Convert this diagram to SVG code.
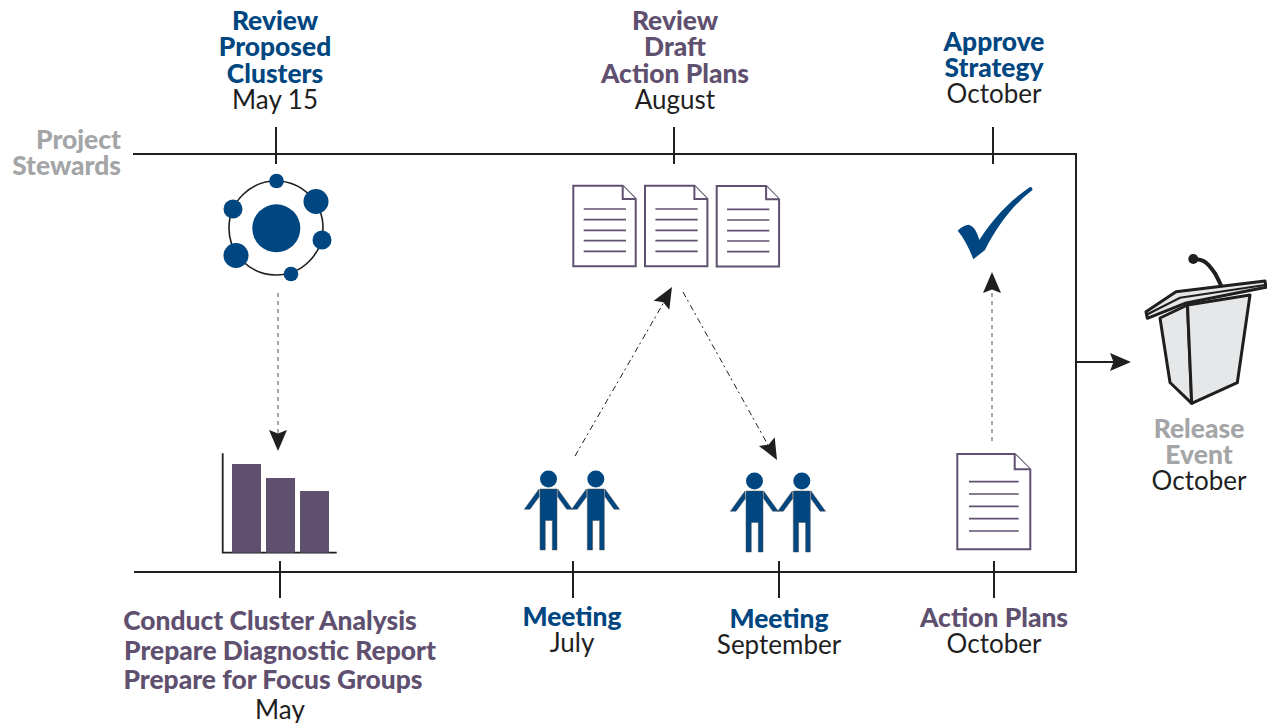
<svg xmlns="http://www.w3.org/2000/svg" width="1267" height="723" viewBox="0 0 1267 723">
<style>
text{font-family:"Lato","Open Sans",sans-serif;font-size:26px;text-anchor:middle;fill:#1f1f1f}
.h{font-weight:900;font-size:26.4px}
.b{fill:#004680}.p{fill:#5f5070}.g{fill:#a3a5a7}
.ln{stroke:#1f1f1f;stroke-width:2;fill:none}
.d1{stroke:#1f1f1f;stroke-width:1;stroke-dasharray:6 3 2 4;fill:none}
.d2{stroke:#8a8a8a;stroke-width:1.5;stroke-dasharray:4 4;fill:none}
.doc{fill:#fff;stroke:#5f5070;stroke-width:2}
.dl{stroke:#5f5070;stroke-width:1.7}
.blue{fill:#004680}
.pod{fill:#e6e7e8;stroke:#1f1f1f;stroke-width:3;stroke-linejoin:round}
</style>
<defs>
<path id="ah" d="M0 0L-9 -21L0 -17.5L9 -21Z" fill="#1f1f1f"/>
<g id="doc3">
<path class="doc" d="M0 0H49.4L62.4 13.3V80.6H0Z"/>
<path class="doc" d="M49.4 0V13.3H62.4" fill="none"/>
<path class="dl" d="M10.4 23.3H52.7M10.4 34H52.7M10.4 44.6H52.7M10.4 55H52.7M10.4 65.6H52.7"/>
</g>
<g id="pair">
<g id="person">
<circle cx="8.5" cy="-10" r="8.5" class="blue"/>
<path class="blue" stroke="#555" stroke-width=".5" d="M0 0H17V61H12.3V31.5H5.3V61H0Z"/>
<path class="blue" stroke="#555" stroke-width=".5" d="M-1 0L-15.7 20.3H-10L-.7 7.7Z"/>
<path class="blue" stroke="#555" stroke-width=".5" d="M17.7 0L32.3 20.3H26.7L17.7 7.7Z"/>
</g>
<use href="#person" x="47.3"/>
</g>
</defs>

<g id="connectors">
<path class="ln" d="M133 154H1076V572H134"/>
<path class="ln" d="M276 127V164M674 127V164M993 127V164M280 561V598M573 561V598M779 561V598M994 561V598"/>
<path class="ln" d="M1076 362H1118"/>
<use href="#ah" transform="translate(1131 362) rotate(-90)"/>
<path class="d2" d="M278 293V434"/>
<use href="#ah" transform="translate(278 451)"/>
<path class="d1" d="M575 456L664 302"/>
<use href="#ah" transform="translate(672 287) rotate(-150)"/>
<path class="d1" d="M683 292L768 445"/>
<use href="#ah" transform="translate(777 460) rotate(-29)"/>
<path class="d2" d="M992 441V290"/>
<use href="#ah" transform="translate(992 272) rotate(180)"/>
</g>

<g id="n-stewards"><text class="h g" x="121" y="149" style="text-anchor:end">Project</text><text class="h g" x="121" y="175" style="text-anchor:end">Stewards</text></g>

<g id="n-review-clusters">
<text class="h b" x="275" y="30">Review</text><text class="h b" x="275" y="56">Proposed</text><text class="h b" x="275" y="83">Clusters</text><text x="275" y="109">May 15</text>
<circle cx="276" cy="228" r="47" fill="none" stroke="#1f1f1f" stroke-width="1.6"/>
<g class="blue"><circle cx="276.3" cy="228.3" r="24"/><circle cx="276.5" cy="181" r="7.3"/><circle cx="316" cy="201.5" r="12.5"/><circle cx="233" cy="209" r="9.5"/><circle cx="322" cy="240" r="9.5"/><circle cx="236" cy="255.5" r="12.5"/><circle cx="291" cy="274" r="7.3"/></g>
</g>

<g id="n-review-draft">
<text class="h p" x="675" y="30">Review</text><text class="h p" x="675" y="56">Draft</text><text class="h p" x="675" y="83">Action Plans</text><text x="675" y="109">August</text>
<use href="#doc3" x="573.3" y="185.7"/><use href="#doc3" x="645" y="185.7"/><use href="#doc3" x="716.7" y="186"/>
</g>

<g id="n-approve">
<text class="h b" x="994" y="51">Approve</text><text class="h b" x="994" y="77">Strategy</text><text x="994" y="103">October</text>
<path class="blue" d="M1032 187.5L1030 187C1008 202 993 219 979.3 240C977 232 974 226 968.5 224.8C964 225.5 960 228 957.7 230.7C964 238 969 248 973.3 259.3L985 250C997 226 1013 205 1032.5 190Z"/>
</g>

<g id="n-podium">
<path fill="none" stroke="#1f1f1f" stroke-width="4" d="M1221.7 287C1219 281 1217 277 1215 273.3C1212 269 1209 265 1206.7 263.3C1204 261 1201 259.5 1196 259.3"/>
<ellipse cx="1193.3" cy="259" rx="5" ry="5" fill="#1f1f1f"/>
<path class="pod" d="M1160 318L1187.5 305L1191.7 403.3L1170 382.5Z"/>
<path class="pod" d="M1187.5 305L1250 295L1237.3 382.7L1191.7 403.3Z"/>
<path class="pod" d="M1146 311.7L1176 291.7L1265 281L1266 287.3L1185 303.3L1147.3 318.3Z"/>
<path fill="none" stroke="#1f1f1f" stroke-width="2.2" d="M1147 314.5L1180 297.7L1265 285"/>
<text class="h g" x="1199" y="438">Release</text><text class="h g" x="1199" y="464">Event</text><text x="1199" y="490">October</text>
</g>

<g id="n-analysis">
<path fill="none" stroke="#1f1f1f" stroke-width="1.8" d="M222.7 453.3V552.7H336.7"/>
<g fill="#5f5070"><rect x="232" y="464" width="29" height="88.7"/><rect x="266" y="478" width="29" height="74.7"/><rect x="300" y="491" width="29" height="61.7"/></g>
<text class="h p" x="270" y="630">Conduct Cluster Analysis</text><text class="h p" x="280" y="660">Prepare Diagnostic Report</text><text class="h p" x="273" y="689">Prepare for Focus Groups</text><text x="280" y="719">May</text>
</g>

<g id="n-meeting-july">
<use href="#pair" x="540" y="489"/>
<text class="h b" x="572" y="626">Meeting</text><text x="572" y="652">July</text>
</g>

<g id="n-meeting-sept">
<use href="#pair" x="746" y="491"/>
<text class="h b" x="779" y="628">Meeting</text><text x="779" y="654">September</text>
</g>

<g id="n-action-plans">
<path class="doc" d="M957.3 454H1014.7L1030.3 469.3V549.3H957.3Z"/>
<path class="doc" fill="none" d="M1014.7 454V469.3H1030.3"/>
<path class="dl" d="M969 481.7H1018.7M969 494H1018.7M969 506.3H1018.7M969 518.7H1018.7M969 531H1018.7"/>
<text class="h p" x="994" y="627">Action Plans</text><text x="994" y="653">October</text>
</g>
</svg>
